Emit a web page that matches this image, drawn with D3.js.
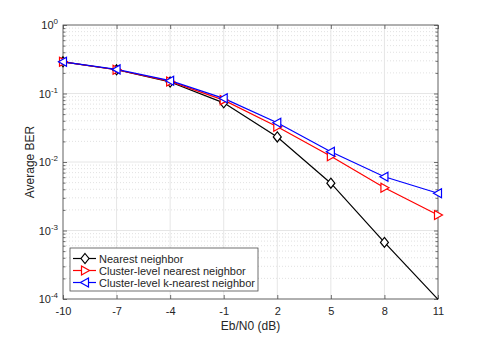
<!DOCTYPE html>
<html>
<head>
<meta charset="utf-8">
<script src="https://cdnjs.cloudflare.com/ajax/libs/d3/7.8.5/d3.min.js"></script>
<style>
  body { margin: 0; background: #fff; }
  text { font-family: "Liberation Sans", Arial, sans-serif; fill: #262626; }
  .line { fill: none; stroke-width: 1.2px; }
</style>
</head>
<body>
<svg id="chart" width="485" height="337"></svg>
<script>
// x values (Eb/N0 in dB)
var snr = [-10, -7, -4, -1, 2, 5, 8, 11];
// BER series
var nearest    = [0.29, 0.222, 0.147, 0.073, 0.0232, 0.0049, 0.00067, 0.000099];
var clusterNN  = [0.29, 0.222, 0.150, 0.080, 0.0327, 0.0121, 0.0042, 0.00168];
var clusterKNN = [0.29, 0.225, 0.154, 0.085, 0.0375, 0.0141, 0.0061, 0.0035];
var seriesNames = ["Nearest neighbor", "Cluster-level nearest neighbor", "Cluster-level k-nearest neighbor"];
var seriesColors = ["#000000", "#ff0000", "#0000ff"];
var yDecades = [0, -1, -2, -3, -4];

var svg = d3.select("svg"),
    margin = {top: 25, right: 47, bottom: 38, left: 63},
    width = +svg.attr("width") - margin.left - margin.right,
    height = +svg.attr("height") - margin.top - margin.bottom,
    g = svg.append("g").attr("transform", "translate(" + margin.left + "," + margin.top + ")");

var x = d3.scaleLinear().domain([-10, 11]).range([0, width]);
var y = d3.scaleLog().domain([1e-4, 1]).range([height, 0]);

var minor = [];
yDecades.slice(1).forEach(function(e) {
  for (var k = 2; k <= 9; k++) minor.push(k * Math.pow(10, e));
});

svg.append("clipPath").attr("id", "plotclip").append("rect")
  .attr("x", -1).attr("y", -1).attr("width", width + 2).attr("height", height + 2);

// grid
g.append("g").selectAll("line").data(minor).enter().append("line")
  .attr("x1", 0).attr("x2", width)
  .attr("y1", function(d) { return y(d); }).attr("y2", function(d) { return y(d); })
  .attr("stroke", "#d9d9d9").attr("stroke-dasharray", "1,2").attr("stroke-width", 0.8);
g.append("g").selectAll("line").data(yDecades).enter().append("line")
  .attr("x1", 0).attr("x2", width)
  .attr("y1", function(d) { return y(Math.pow(10, d)); }).attr("y2", function(d) { return y(Math.pow(10, d)); })
  .attr("stroke", "#e6e6e6");
g.append("g").selectAll("line").data(snr).enter().append("line")
  .attr("y1", 0).attr("y2", height)
  .attr("x1", function(d) { return x(d); }).attr("x2", function(d) { return x(d); })
  .attr("stroke", "#e6e6e6");

// axes box
var axisColor = "#262626";
g.append("rect").attr("width", width).attr("height", height)
  .attr("fill", "none").attr("stroke", "#4d4d4d").attr("stroke-width", 0.8);

var xb = g.append("g").attr("transform", "translate(0," + height + ")")
  .call(d3.axisBottom(x).tickValues(snr).tickSize(-4).tickPadding(8).tickFormat(function(d) { return String(d); }));
g.append("g")
  .call(d3.axisTop(x).tickValues(snr).tickSize(-4).tickFormat(""));
g.append("g")
  .call(d3.axisLeft(y).tickValues(yDecades.map(function(e) { return Math.pow(10, e); })).tickSize(-4).tickFormat(""));
g.append("g").attr("transform", "translate(" + width + ",0)")
  .call(d3.axisRight(y).tickValues(yDecades.map(function(e) { return Math.pow(10, e); })).tickSize(-4).tickFormat(""));
g.append("g").call(d3.axisLeft(y).tickValues(minor).tickSize(-2.5).tickFormat(""));
g.append("g").attr("transform", "translate(" + width + ",0)")
  .call(d3.axisRight(y).tickValues(minor).tickSize(-2.5).tickFormat(""));

g.selectAll(".domain").remove();
g.selectAll(".tick line").attr("stroke", "#4d4d4d").attr("stroke-width", 0.8);
xb.selectAll("text").style("font-size", "11px").attr("fill", axisColor);

// y tick labels with superscript
var ylab = g.append("g").selectAll("text").data(yDecades).enter().append("text")
  .attr("x", -5).attr("y", function(d) { return y(Math.pow(10, d)) + 4; })
  .attr("text-anchor", "end").style("font-size", "11px");
ylab.append("tspan").text("10");
ylab.append("tspan").attr("dy", -5).style("font-size", "8px").text(function(d) { return d; });

g.append("text").attr("transform", "rotate(-90)")
  .attr("x", -height / 2).attr("y", -29)
  .attr("text-anchor", "middle").style("font-size", "12px").text("Average BER");
g.append("text").attr("x", width / 2).attr("y", height + 31)
  .attr("text-anchor", "middle").style("font-size", "12px").text("Eb/N0 (dB)");

// markers
function marker(sel, kind, color) {
  var p;
  if (kind === 0) p = "M0,-5L4,0L0,5L-4,0Z";
  else if (kind === 1) p = "M-3.5,-4.5L4.5,0L-3.5,4.5Z";
  else p = "M3.5,-4.5L-4.5,0L3.5,4.5Z";
  sel.append("path").attr("d", p).attr("fill", "#fff").attr("stroke", color).attr("stroke-width", 1.2);
}

var data = [nearest, clusterNN, clusterKNN];
var line = d3.line().x(function(d, i) { return x(snr[i]); }).y(function(d) { return y(d); });

var plot = g.append("g").attr("clip-path", "url(#plotclip)");
data.forEach(function(s, k) {
  plot.append("path").attr("class", "line").attr("d", line(s)).attr("stroke", seriesColors[k]);
});
data.forEach(function(s, k) {
  s.forEach(function(v, i) {
    if (v < y.domain()[0]) return;
    var m = g.append("g").attr("transform", "translate(" + x(snr[i]) + "," + y(v) + ")");
    marker(m, k, seriesColors[k]);
  });
});

// legend
var lg = g.append("g").attr("transform", "translate(7," + (height - 51) + ")");
lg.append("rect").attr("width", 188).attr("height", 43)
  .attr("fill", "#fff").attr("stroke", "#4d4d4d").attr("stroke-width", 0.8);
seriesNames.forEach(function(name, k) {
  var row = lg.append("g").attr("transform", "translate(0," + (10.5 + k * 12) + ")");
  row.append("line").attr("x1", 3).attr("x2", 26).attr("stroke", seriesColors[k]).attr("stroke-width", 1.2);
  var m = row.append("g").attr("transform", "translate(15,0)");
  marker(m, k, seriesColors[k]);
  row.append("text").attr("x", 29).attr("y", 4).style("font-size", "11px").text(name);
});
</script>
</body>
</html>
